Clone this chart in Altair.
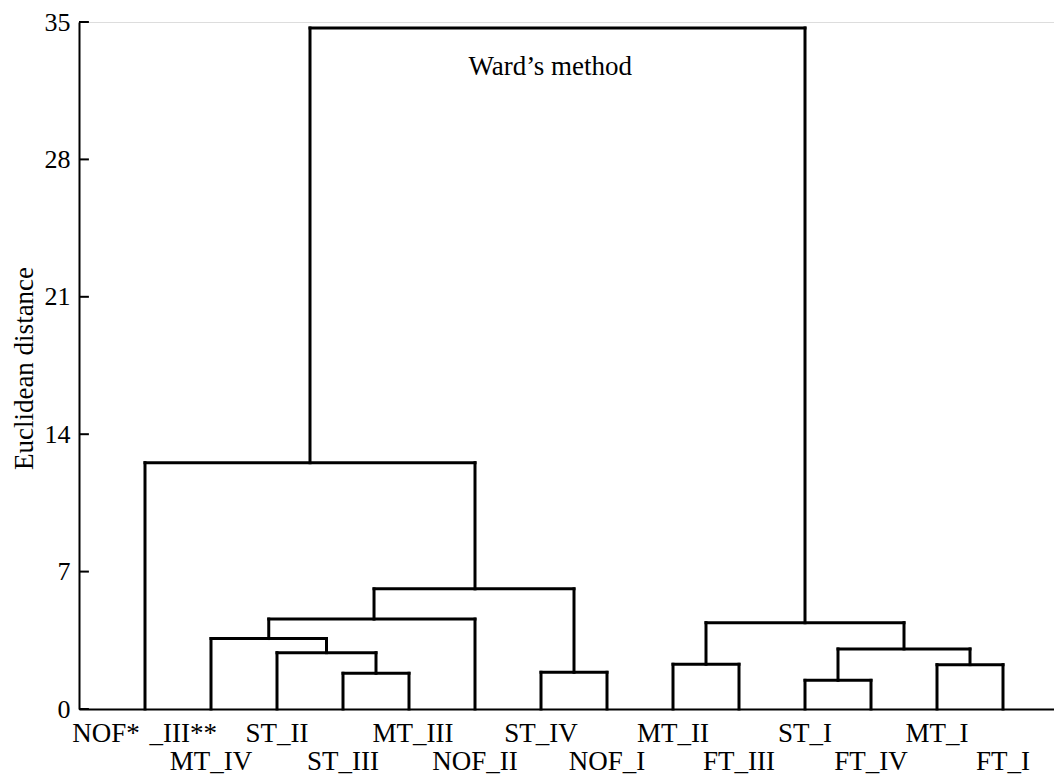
import altair as alt
import pandas as pd

# ---- data ----
# leaf positions are indices 0..13 along the x scale
top_labels = ["NOF*", "_III**", "ST_II", "MT_III", "ST_IV", "MT_II", "ST_I", "MT_I"]
top_label_x = [-0.59, 0.58, 2, 4.06, 6, 8, 10, 12]
bottom_labels = ["MT_IV", "ST_III", "NOF_II", "NOF_I", "FT_III", "FT_IV", "FT_I"]
bottom_label_x = [1, 3, 5, 7, 9, 11, 13]

# dendrogram links: left leg x, right leg x, merge height, and the heights the legs drop to
link_left_x = [3, 2, 1, 1.875, 6, 3.47, 0, 2.5, 8, 10, 12, 10.5, 8.5]
link_right_x = [4, 3.5, 2.75, 5, 7, 6.5, 5, 10, 9, 11, 13, 12.5, 11.5]
link_height = [1.82, 2.87, 3.59, 4.58, 1.87, 6.12, 12.55, 34.7, 2.28, 1.46, 2.26, 3.06, 4.40]
link_left_base = [0, 0, 0, 3.59, 0, 4.58, 0, 12.55, 0, 0, 0, 1.46, 2.28]
link_right_base = [0, 1.82, 2.87, 0, 0, 1.87, 6.12, 4.40, 0, 0, 0, 2.26, 3.06]

y_ticks = [0, 7, 14, 21, 28, 35]
annotation = "Ward\u2019s method"
annotation_x = 6.14
annotation_y = 32.7

# ---- build tables ----
segs = []
for xl, xr, h, bl, br in zip(link_left_x, link_right_x, link_height, link_left_base, link_right_base):
    segs.append({"x": xl, "x2": xl, "y": bl, "y2": h})
    segs.append({"x": xl, "x2": xr, "y": h, "y2": h})
    segs.append({"x": xr, "x2": xr, "y": br, "y2": h})
seg_df = pd.DataFrame(segs)

top_df = pd.DataFrame({"label": top_labels, "x": top_label_x})
bot_df = pd.DataFrame({"label": bottom_labels, "x": bottom_label_x})
tick_df = pd.DataFrame({"y": y_ticks})
ann_df = pd.DataFrame({"label": [annotation], "x": [annotation_x], "y": [annotation_y]})

FONT = "Liberation Serif"
X_MIN, X_MAX = -1, 13.7727
xscale = alt.Scale(domain=[X_MIN, X_MAX], nice=False, zero=False)
yscale = alt.Scale(domain=[0, 35], nice=False, zero=True)

x_axis = alt.Axis(labels=False, ticks=False, grid=False, title=None,
                  domain=True, domainColor="black", domainWidth=2)
y_axis = alt.Axis(values=y_ticks, ticks=False, grid=False, domain=True,
                  domainColor="black", domainWidth=2,
                  labelFont=FONT, labelFontSize=26, labelColor="black",
                  labelPadding=9,
                  title="Euclidean distance", titleFont=FONT, titleFontSize=27,
                  titleFontWeight="normal", titleColor="black",
                  titleX=-55, titleY=346,
                  titleBaseline="middle", titleAlign="center")

tree = alt.Chart(seg_df).mark_rule(color="black", strokeWidth=3, strokeCap="square").encode(
    x=alt.X("x:Q", scale=xscale, axis=x_axis), x2="x2:Q",
    y=alt.Y("y:Q", scale=yscale, axis=y_axis), y2="y2:Q"
)

# inward tick marks on the y axis
ticks = alt.Chart(tick_df).mark_rule(color="black", strokeWidth=2).encode(
    y=alt.Y("y:Q", scale=yscale, axis=y_axis),
    x=alt.datum(X_MIN, scale=xscale), x2=alt.datum(X_MIN + 0.15)
)

top_text = alt.Chart(top_df).mark_text(font=FONT, fontSize=27, color="black",
                                       baseline="middle", align="center", dy=25).encode(
    x=alt.X("x:Q", scale=xscale, axis=x_axis), y=alt.datum(0), text="label:N"
)
bot_text = alt.Chart(bot_df).mark_text(font=FONT, fontSize=27, color="black",
                                       baseline="middle", align="center", dy=53).encode(
    x=alt.X("x:Q", scale=xscale, axis=x_axis), y=alt.datum(0), text="label:N"
)
ann = alt.Chart(ann_df).mark_text(font=FONT, fontSize=27, color="black",
                                  baseline="middle", align="center").encode(
    x=alt.X("x:Q", scale=xscale, axis=x_axis), y=alt.Y("y:Q", scale=yscale, axis=y_axis),
    text="label:N"
)

chart = alt.layer(tree, ticks, top_text, bot_text, ann).properties(
    width=975, height=687,
    autosize=alt.AutoSizeParams(type="none"),
    padding={"left": 71, "top": 14, "right": 0, "bottom": 70},
).configure_view(stroke=None).configure_axis(ticks=False, grid=False).configure(background="white")

chart.save("out.html", embed_options={"renderer": "svg", "actions": False})
